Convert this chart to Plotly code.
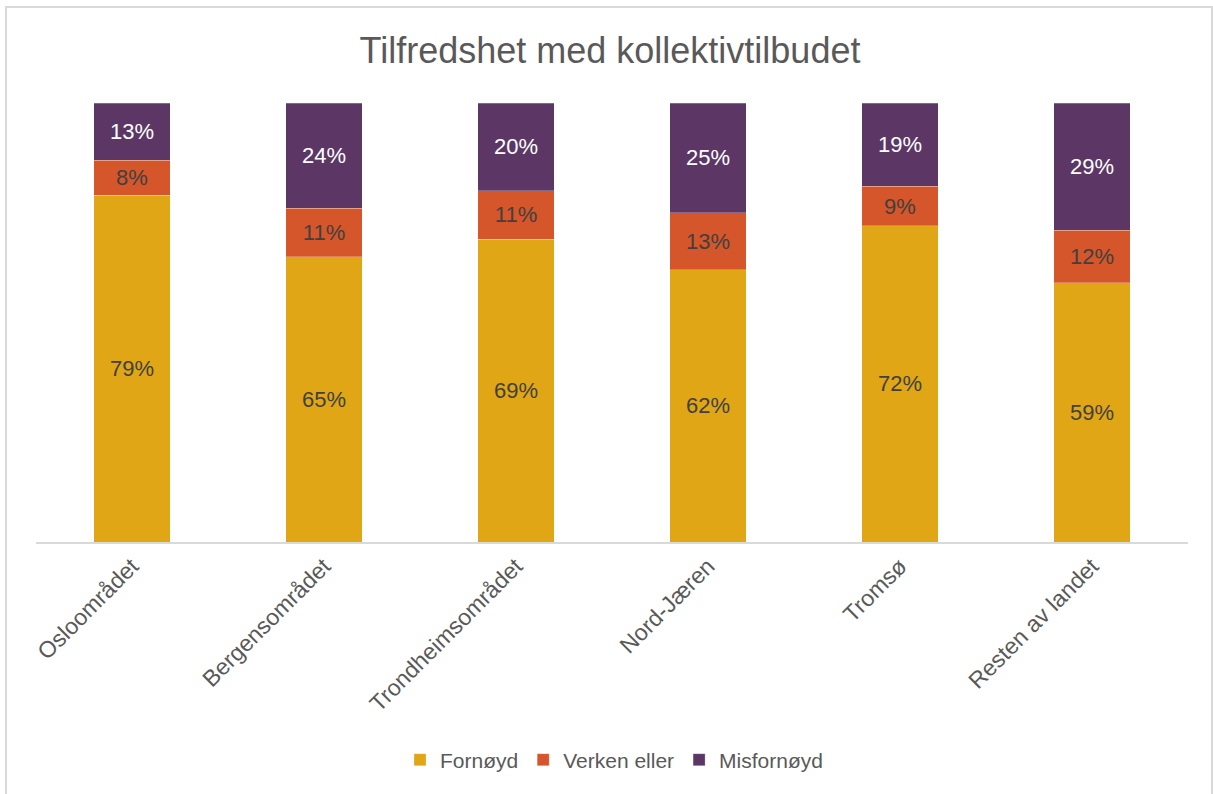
import plotly.graph_objects as go

categories = ["Osloområdet", "Bergensområdet", "Trondheimsområdet", "Nord-Jæren", "Tromsø", "Resten av landet"]
fornoyd = [79, 65, 69, 62, 72, 59]
verken = [8, 11, 11, 13, 9, 12]
misfornoyd = [13, 24, 20, 25, 19, 29]

series = [
    ("Fornøyd", fornoyd, "#E0A616", "#404040"),
    ("Verken eller", verken, "#D4562A", "#404040"),
    ("Misfornøyd", misfornoyd, "#5C3766", "#FFFFFF"),
]

FONT = "Liberation Sans"

fig = go.Figure()
for name, vals, color, tcolor in series:
    fig.add_trace(go.Bar(
        x=categories, y=vals, name=name,
        marker=dict(color=color, line=dict(color="rgba(255,255,255,0.5)", width=0.5)),
        text=[f"{v}%" for v in vals], textposition="inside", insidetextanchor="middle",
        textangle=0, textfont=dict(family=FONT, size=22, color=tcolor),
        hoverinfo="skip",
    ))

fig.update_layout(
    barmode="stack", bargap=0.6,
    width=1213, height=794,
    margin=dict(l=36, r=25, t=103, b=252),
    paper_bgcolor="white", plot_bgcolor="white",
    font=dict(family=FONT, color="#595959"),
    title=dict(text="Tilfredshet med kollektivtilbudet", x=610 / 1213, xanchor="center",
               y=1 - 50 / 794, yanchor="middle", yref="container",
               font=dict(family=FONT, size=36, color="#595959")),
    xaxis=dict(showline=True, linecolor="#D9D9D9", linewidth=1.5, ticks="",
               tickangle=-45, tickfont=dict(family=FONT, size=23, color="#595959"),
               showgrid=False),
    yaxis=dict(range=[0, 100], visible=False, showgrid=False),
    legend=dict(orientation="h", x=614 / 1213, xanchor="center", xref="container",
                y=1 - 760 / 794, yanchor="middle", yref="container",
                font=dict(family=FONT, size=21, color="#595959"),
                traceorder="normal", itemwidth=30),
    shapes=[dict(type="rect", xref="paper", yref="paper",
                 x0=(6 - 36) / 1152, x1=(1212 - 36) / 1152,
                 y0=(542 - 800) / 439, y1=(542 - 7) / 439,
                 line=dict(color="#D9D9D9", width=2), fillcolor="rgba(0,0,0,0)",
                 layer="below")],
)

fig.write_html("out.html", config={"displayModeBar": False},
               post_script="document.body.style.margin='0';document.body.style.overflow='hidden';")
